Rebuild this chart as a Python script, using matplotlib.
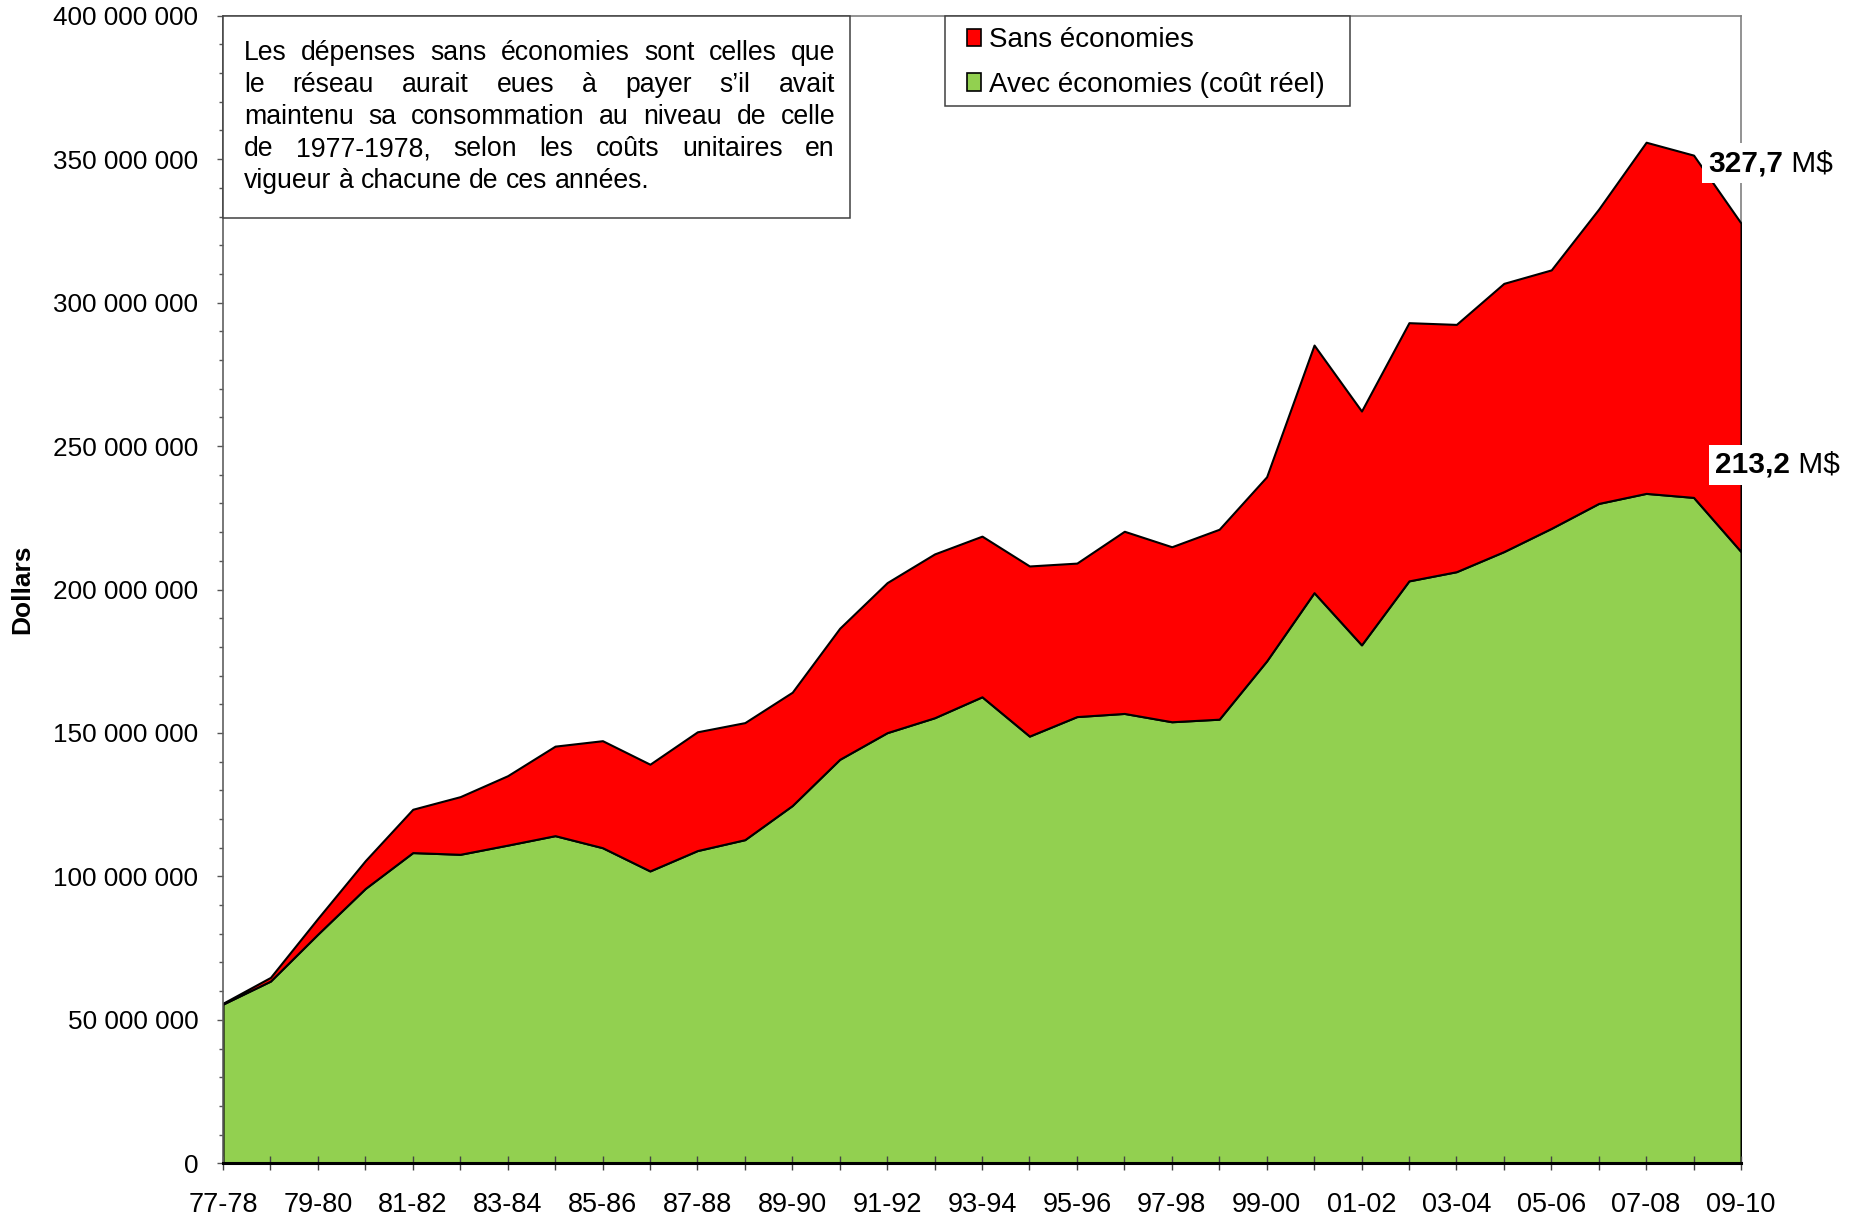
import matplotlib
matplotlib.use("Agg")
import matplotlib.pyplot as plt
from matplotlib.patches import Patch, Rectangle
from matplotlib.ticker import FuncFormatter, MultipleLocator

plt.rcParams['font.family'] = ['Liberation Sans', 'DejaVu Sans']

# years (school years), values in millions of dollars
years = ['77-78', '78-79', '79-80', '80-81', '81-82', '82-83', '83-84', '84-85',
         '85-86', '86-87', '87-88', '88-89', '89-90', '90-91', '91-92', '92-93',
         '93-94', '94-95', '95-96', '96-97', '97-98', '98-99', '99-00', '00-01',
         '01-02', '02-03', '03-04', '04-05', '05-06', '06-07', '07-08', '08-09',
         '09-10']

avec_economies = [55.5, 63.5, 79.9, 95.8, 108.3, 107.7, 110.9, 114.2, 110.0, 101.9,
                  109.0, 112.8, 124.7, 140.8, 150.1, 155.3, 162.6, 148.9, 155.7, 156.8,
                  153.9, 154.8, 175.1, 198.9, 180.7, 203.0, 206.2, 213.2, 221.3, 230.0,
                  233.5, 232.1, 213.2]

sans_economies = [55.8, 64.8, 85.4, 105.5, 123.4, 127.8, 135.1, 145.4, 147.3, 139.1,
                  150.4, 153.6, 164.2, 186.5, 202.4, 212.4, 218.6, 208.2, 209.2, 220.3,
                  214.9, 221.0, 239.3, 285.2, 262.2, 293.0, 292.4, 306.7, 311.4, 332.6,
                  355.9, 351.4, 327.7]

note_lines = [
    "Les dépenses sans économies sont celles que",
    "le réseau aurait eues à payer s\u2019il avait",
    "maintenu sa consommation au niveau de celle",
    "de 1977-1978, selon les coûts unitaires en",
    "vigueur à chacune de ces années.",
]

W, H = 1862, 1220
RED = '#FF0000'
GREEN = '#92D050'


def fx(px):
    return px / W


def fy(py):
    return 1 - py / H


fig = plt.figure(figsize=(W / 100, H / 100), dpi=100)
ax = fig.add_axes([fx(223), fy(1163.3), fx(1741) - fx(223), fy(15.7) - fy(1163.3)])

x = list(range(len(years)))
green = [v * 1e6 for v in avec_economies]
total = [v * 1e6 for v in sans_economies]

ax.fill_between(x, 0, green, facecolor=GREEN, edgecolor='black', linewidth=1.5, zorder=1)
ax.fill_between(x, green, total, facecolor=RED, edgecolor='black', linewidth=1.5, zorder=1)

ax.set_xlim(0, len(years) - 1)
ax.set_ylim(0, 400e6)

# axes look
for side in ['top', 'right']:
    ax.spines[side].set_color('#808080')
    ax.spines[side].set_linewidth(1.2)
    ax.spines[side].set_zorder(0.5)
ax.spines['left'].set_color('#606060')
ax.spines['left'].set_linewidth(1.2)
ax.spines['bottom'].set_color('black')
ax.spines['bottom'].set_linewidth(2.2)

ax.yaxis.set_major_locator(MultipleLocator(50e6))
ax.yaxis.set_minor_locator(MultipleLocator(10e6))
ax.yaxis.set_major_formatter(FuncFormatter(lambda v, p: f"{int(round(v)):,}".replace(",", " ")))
ax.tick_params(axis='y', which='major', direction='out', length=4.3, width=1,
               color='#555555', labelsize=18.8, pad=13.5)
ax.tick_params(axis='y', which='minor', direction='out', length=2.9, width=1, color='#555555')

ax.set_xticks(x)
ax.set_xticklabels([y if i % 2 == 0 else '' for i, y in enumerate(years)])
ax.tick_params(axis='x', which='major', direction='inout', length=10, width=1,
               color='#444444', labelsize=19.5, pad=15.5)

ax.set_ylabel("Dollars", fontsize=19, fontweight='bold')
ax.yaxis.set_label_coords((34 - 223) / (1741 - 223), 0.5)

# note box, justified text
fig.add_artist(Rectangle((fx(223), fy(218)), fx(850) - fx(223), fy(16) - fy(218),
                         transform=fig.transFigure, facecolor='white',
                         edgecolor='#404040', linewidth=1.1, zorder=3))
renderer = fig.canvas.get_renderer()
note_size = 19.2
left_px, right_px = 244, 835
base0, step = 60.5, 31.9
for k, line in enumerate(note_lines):
    words = line.split(' ')
    base = fy(base0 + k * step)
    texts = [fig.text(0, base, w, fontsize=note_size, va='baseline', ha='left', zorder=4)
             for w in words]
    widths = [t.get_window_extent(renderer).width for t in texts]
    if k < len(note_lines) - 1:
        gap = (right_px - left_px - sum(widths)) / (len(words) - 1)
    else:
        sp = fig.text(0, 0, 'a a', fontsize=note_size)
        sp2 = fig.text(0, 0, 'aa', fontsize=note_size)
        gap = sp.get_window_extent(renderer).width - sp2.get_window_extent(renderer).width
        sp.remove()
        sp2.remove()
    pos = left_px
    for t, w in zip(texts, widths):
        t.set_x(fx(pos))
        pos += w + gap

# legend
fig.add_artist(Rectangle((fx(945), fy(106)), fx(1350) - fx(945), fy(16) - fy(106),
                         transform=fig.transFigure, facecolor='white',
                         edgecolor='#404040', linewidth=1.1, zorder=3))
handles = [Patch(facecolor=RED, edgecolor='black', linewidth=1.2, label='Sans économies'),
           Patch(facecolor=GREEN, edgecolor='black', linewidth=1.2, label='Avec économies (coût réel)')]
leg = fig.legend(handles=handles, loc='upper left', bbox_to_anchor=(fx(967), fy(27)),
                 bbox_transform=fig.transFigure, frameon=False, borderpad=0,
                 borderaxespad=0, handlelength=0.52, handleheight=0.58,
                 handletextpad=0.28, labelspacing=0.68, fontsize=20)
leg.set_zorder(5)

# end labels
last = len(years) - 1
for val, off in [(sans_economies[-1], (-23.8, 37.2)), (avec_economies[-1], (-18.7, 56.7))]:
    t1 = ax.annotate(f"{val:.1f}".replace('.', ','), xy=(last, val * 1e6), xytext=off,
                     textcoords='offset points', fontsize=21.5, fontweight='bold',
                     ha='left', va='baseline', annotation_clip=False, zorder=6,
                     bbox=dict(boxstyle='square,pad=0.2', facecolor='white', edgecolor='none'))
    ax.annotate(" M$", xy=(1, 0), xycoords=t1, fontsize=21.5, ha='left', va='bottom',
                annotation_clip=False, zorder=5)

fig.savefig("out.png", dpi=100)
